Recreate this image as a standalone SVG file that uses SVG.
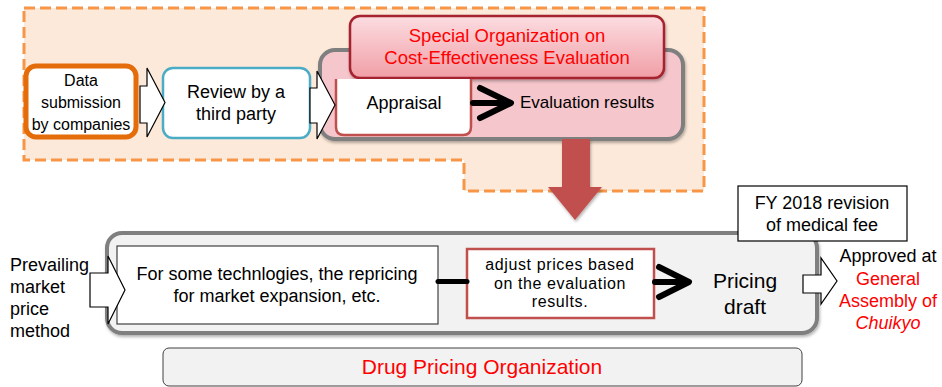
<svg xmlns="http://www.w3.org/2000/svg" width="942" height="387" viewBox="0 0 942 387">
<defs>
<linearGradient id="gSpec" x1="0" y1="0" x2="0" y2="1">
<stop offset="0" stop-color="#fbdde1"/>
<stop offset="1" stop-color="#f19ea6"/>
</linearGradient>
<filter id="sh" x="-5%" y="-5%" width="110%" height="120%">
<feDropShadow dx="1" dy="2" stdDeviation="1.5" flood-color="#000" flood-opacity="0.3"/>
</filter>
<style>
text{font-family:"Liberation Sans",Arial,sans-serif;fill:#000;}
.c{text-anchor:middle;}
.red{fill:#ff0000;}
.blk{fill:#fff;stroke:#000;stroke-width:1.2;}
.ln{fill:none;stroke:#000;stroke-linecap:round;stroke-linejoin:round;}
</style>
</defs>
<rect width="942" height="387" fill="#fff"/>

<g id="cea-region">
<path d="M24,8 H704 V191 H464 V160 H24 Z" fill="#fde9d9" stroke="#f79646" stroke-width="3" stroke-dasharray="11 5"/>
</g>

<g id="cea-panel">
<rect x="320" y="50" width="363" height="89" rx="15" fill="#f5c6cc" stroke="#7f7f7f" stroke-width="4" filter="url(#sh)"/>
</g>

<g id="data-submission">
<rect x="26" y="66" width="110" height="71" rx="10" fill="#fff" stroke="#e46c0a" stroke-width="5"/>
<text class="c" x="81" y="86" font-size="16">Data</text>
<text class="c" x="81" y="108" font-size="16">submission</text>
<text class="c" x="81" y="130" font-size="16">by companies</text>
</g>

<g id="third-party-review">
<rect x="163" y="68" width="147" height="70" rx="10" fill="#fff" stroke="#4bacc6" stroke-width="2.5"/>
<text class="c" x="236" y="98" font-size="18">Review by a</text>
<text class="c" x="236" y="120" font-size="18">third party</text>
</g>

<g id="special-org">
<rect x="350" y="16" width="314" height="62" rx="10" fill="url(#gSpec)" stroke="#a5202f" stroke-width="2.5" filter="url(#sh)"/>
<text class="c red" x="507" y="42" font-size="18.5">Special Organization on</text>
<text class="c red" x="507" y="64" font-size="18.5">Cost-Effectiveness Evaluation</text>
</g>

<g id="appraisal">
<path d="M336,79 V127 Q336,135 344,135 H463 Q471,135 471,127 V79" fill="#fff" stroke="#c0504d" stroke-width="2.5"/>
<text class="c" x="404" y="109" font-size="18">Appraisal</text>
</g>

<g id="evaluation-results">
<text x="520" y="108" font-size="17">Evaluation results</text>
</g>

<g id="drug-pricing-panel">
<rect x="107" y="233" width="710" height="100" rx="15" fill="#f2f2f2" stroke="#7f7f7f" stroke-width="4" filter="url(#sh)"/>
</g>

<g id="fy2018">
<rect x="738" y="186" width="169" height="55" class="blk"/>
<text class="c" x="822" y="209" font-size="18">FY 2018 revision</text>
<text class="c" x="822" y="231" font-size="18">of medical fee</text>
</g>

<g id="prevailing">
<text x="10" y="271" font-size="18">Prevailing</text>
<text x="10" y="293" font-size="18">market</text>
<text x="10" y="315" font-size="18">price</text>
<text x="10" y="337" font-size="18">method</text>
</g>

<g id="repricing">
<rect x="117" y="246" width="321" height="78" fill="#fff" stroke="#404040" stroke-width="1.2"/>
<text class="c" x="277" y="280" font-size="18">For some technlogies, the repricing</text>
<text class="c" x="277" y="302" font-size="18">for market expansion, etc.</text>
</g>

<g id="adjust-prices">
<rect x="467" y="249" width="187" height="69" fill="#fff" stroke="#c0504d" stroke-width="2.5"/>
<text class="c" x="560" y="270" font-size="16" letter-spacing="0.6">adjust prices based</text>
<text class="c" x="560" y="288.5" font-size="16" letter-spacing="0.6">on the evaluation</text>
<text class="c" x="560" y="307" font-size="16" letter-spacing="0.6">results.</text>
</g>

<g id="pricing-draft">
<text class="c" x="745" y="288" font-size="21">Pricing</text>
<text class="c" x="745" y="314" font-size="21">draft</text>
</g>

<g id="chuikyo">
<text class="c" x="888" y="262" font-size="18">Approved at</text>
<text class="c red" x="888" y="285" font-size="18">General</text>
<text class="c red" x="888" y="307" font-size="18">Assembly of</text>
<text class="c red" x="888" y="329" font-size="18" font-style="italic">Chuikyo</text>
</g>

<g id="drug-pricing-org">
<rect x="163" y="348" width="639" height="38" rx="6" fill="#f2f2f2" stroke="#404040" stroke-width="1"/>
<text class="c red" x="482" y="374" font-size="21">Drug Pricing Organization</text>
</g>

<g id="connectors">
<path d="M140,86 H147 V68 L165,102.5 L147,137 V123 H140 Z" class="blk"/>
<path d="M310,88 H317 V71 L335,105 L317,139 V123 H310 Z" class="blk"/>
<path d="M473,103 H508" class="ln" stroke-width="6"/>
<path d="M480,88 L511,103 L480,118" class="ln" stroke-width="6"/>
<path d="M562,139 H590 V187 H602 L575,220 L548,187 H562 Z" fill="#c0504d" filter="url(#sh)"/>
<path d="M90,273 H108 V256 L125,290 L108,324 V307 H90 Z" class="blk"/>
<path d="M438,281.5 H467" class="ln" stroke-width="5" stroke-linecap="butt"/>
<path d="M655,282 H686" class="ln" stroke-width="6"/>
<path d="M659,267 L689,282 L659,297" class="ln" stroke-width="6"/>
<path d="M803,275 H821 V258 L837,281 L821,304 V293 H803 Z" class="blk"/>
</g>
</svg>
